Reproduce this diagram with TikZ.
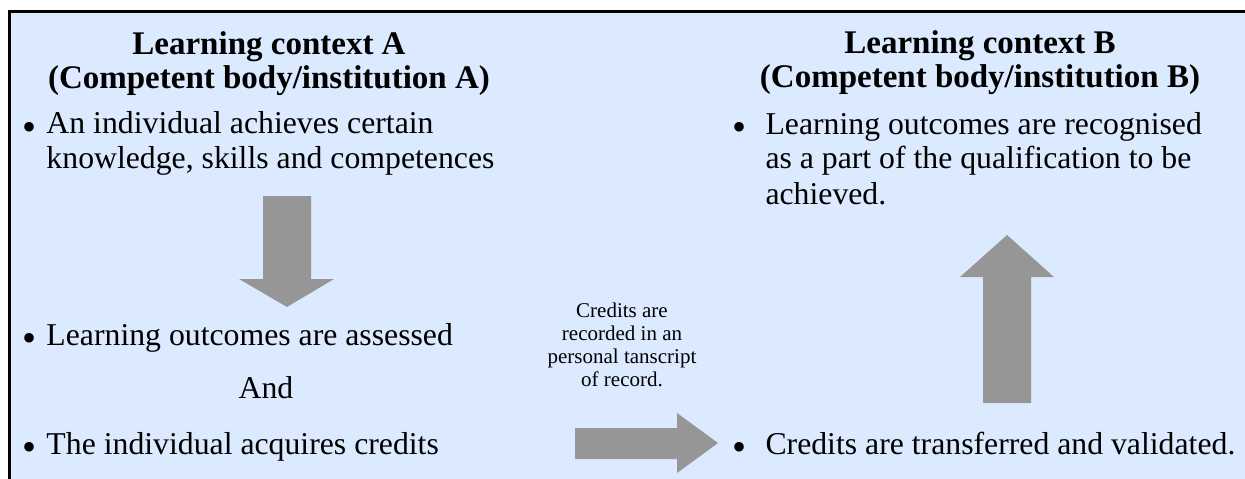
\documentclass[tikz,border=0pt]{standalone}
\usepackage{fontspec}
\setmainfont{Liberation Serif}
\definecolor{bgblue}{RGB}{219,234,254}
\definecolor{arrowgray}{RGB}{150,150,150}
\begin{document}
\begin{tikzpicture}[x=0.4pt,y=-0.4pt,
  body/.style={anchor=base west,inner sep=0pt,align=left,font=\fontsize{12.7pt}{14pt}\selectfont},
  bul/.style={anchor=center,inner sep=0pt,font=\fontsize{16pt}{16pt}\selectfont},
  head/.style={anchor=base,inner sep=0pt,align=center,font=\fontsize{13.2pt}{13.6pt}\selectfont\bfseries},
  lbl/.style={anchor=base,inner sep=0pt,align=center,font=\fontsize{8.4pt}{9.2pt}\selectfont},
  fatarrow/.style={fill=arrowgray,draw=none}]
\useasboundingbox (0,0) rectangle (1245,479);
\fill[white] (0,0) rectangle (1245,479);
\fill[bgblue] (9.5,11.5) rectangle (1245,479);
\draw[line width=1.2pt] (9.5,479) -- (9.5,11.5) -- (1245,11.5);
% headings (base = baseline of last line)
\node[head] (hA) at (269,89) {Learning context A\\(Competent body/institution A)};
\node[head] (hB) at (980,88) {Learning context B\\(Competent body/institution B)};
% context A
\node[bul] (bA1) at (30,131) {\textbullet};
\node[body] (tA1) at (46,169) {An individual achieves certain\\knowledge, skills and competences};
\node[bul] (bA2) at (30,342) {\textbullet};
\node[body] (tA3) at (46,345) {Learning outcomes are assessed};
\node[body,anchor=base] (and) at (266,398) {And};
\node[bul] (bA3) at (30,451) {\textbullet};
\node[body] (tA4) at (46,454) {The individual acquires credits};
% context B
\node[bul] (bB1) at (739,131) {\textbullet};
\node[body] (tB1) at (765,204) {Learning outcomes are recognised\\as a part of the qualification to be\\achieved.};
\node[bul] (bB2) at (739,451) {\textbullet};
\node[body] (tB4) at (765,454) {Credits are transferred and validated.};
% label
\node[lbl] (lab) at (622,386) {Credits are\\recorded in an\\personal tanscript\\of record.};
% block arrows
\fill[fatarrow] (263,196) -- (311,196) -- (311,279) -- (334,279) -- (287,307) -- (239,279) -- (263,279) -- cycle;
\fill[fatarrow] (983,403) -- (1031,403) -- (1031,277) -- (1054,277) -- (1007,235) -- (960,277) -- (983,277) -- cycle;
\fill[fatarrow] (575,428) -- (677,428) -- (677,413) -- (718,443) -- (677,473) -- (677,459) -- (575,459) -- cycle;
\end{tikzpicture}
\end{document}
